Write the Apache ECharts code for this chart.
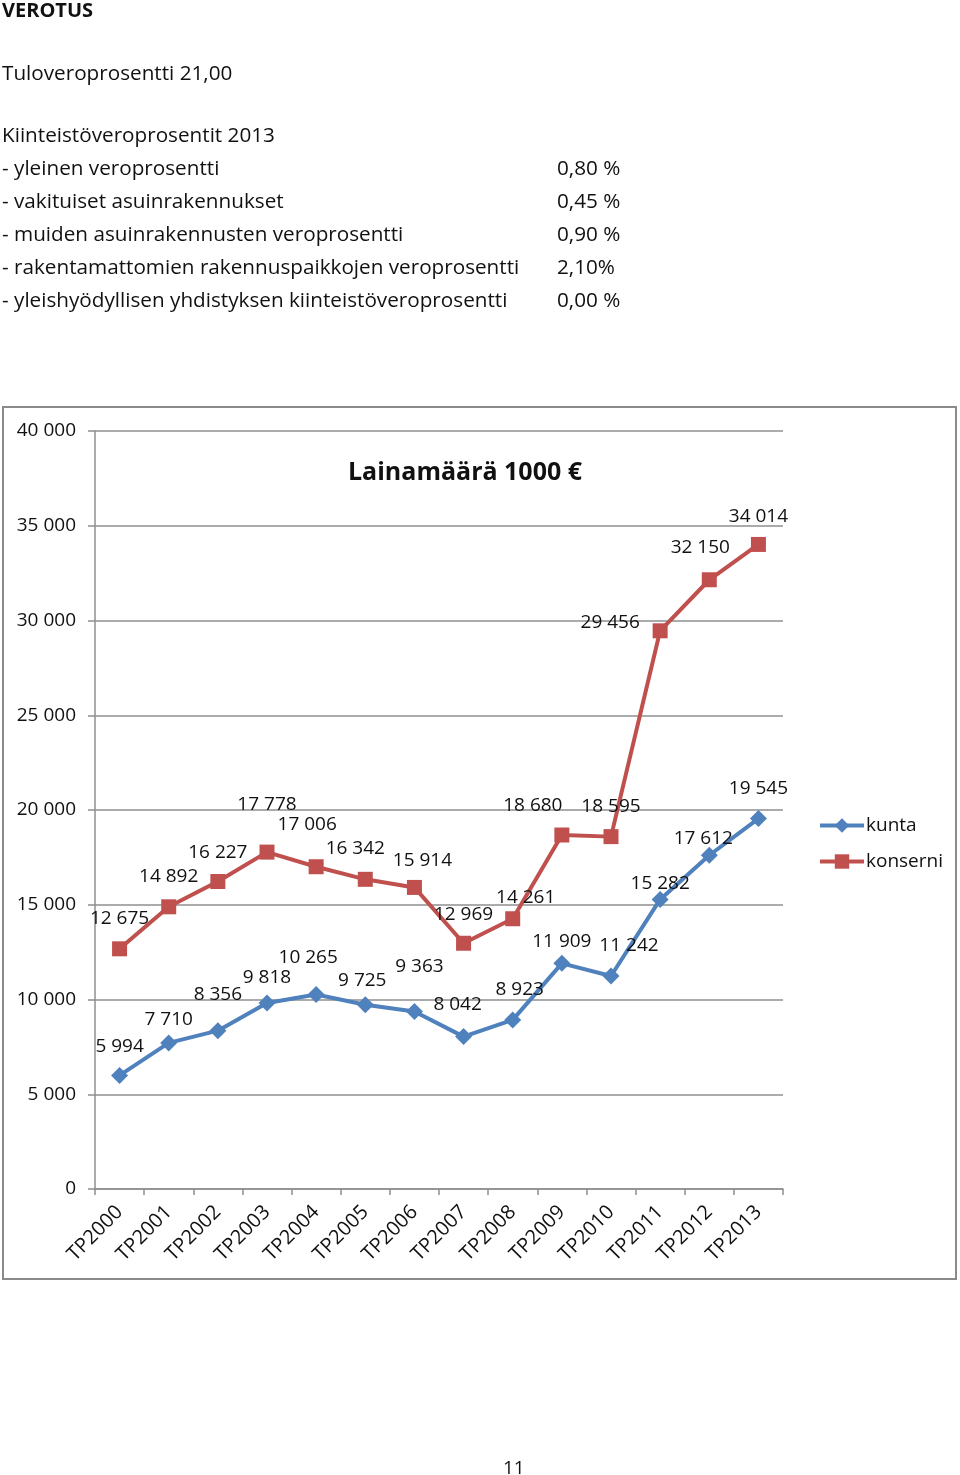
<!DOCTYPE html>
<html>
<head>
<meta charset="utf-8">
<script src="https://cdn.jsdelivr.net/npm/echarts@6/dist/echarts.min.js"></script>
<style>
  html, body { margin: 0; padding: 0; background: #fff; }
  body { width: 960px; height: 1475px; position: relative; overflow: hidden; font-family: "Open Sans", sans-serif; color: #111; }
  .t { position: absolute; font-size: 20.7px; line-height: 24px; white-space: nowrap; z-index: 2; }
  #chart { position: absolute; left: 0; top: 0; width: 960px; height: 1475px; z-index: 1; }
</style>
</head>
<body>
<div class="t" style="left:2px; top:-2px; font-weight:bold; font-size:20px;">VEROTUS</div>
<div class="t" style="left:2px; top:60px;">Tuloveroprosentti 21,00</div>
<div class="t" style="left:2px; top:122px;">Kiinteistöveroprosentit 2013</div>
<div id="rows"></div>
<div class="t" style="left:503px; top:1455px; font-size:19px;">11</div>
<div id="chart"></div>
<script>
// ---- data ----
const taxRowLabels = [
  "- yleinen veroprosentti",
  "- vakituiset asuinrakennukset",
  "- muiden asuinrakennusten veroprosentti",
  "- rakentamattomien rakennuspaikkojen veroprosentti",
  "- yleishyödyllisen yhdistyksen kiinteistöveroprosentti"
];
const taxRowValues = ["0,80 %", "0,45 %", "0,90 %", "2,10%", "0,00 %"];

const categories = ["TP2000","TP2001","TP2002","TP2003","TP2004","TP2005","TP2006","TP2007","TP2008","TP2009","TP2010","TP2011","TP2012","TP2013"];
const kunta = [5994, 7710, 8356, 9818, 10265, 9725, 9363, 8042, 8923, 11909, 11242, 15282, 17612, 19545];
const konserni = [12675, 14892, 16227, 17778, 17006, 16342, 15914, 12969, 14261, 18680, 18595, 29456, 32150, 34014];
const yTicks = [0, 5000, 10000, 15000, 20000, 25000, 30000, 35000, 40000];

// label placement (styling only)
const kuntaLabelShift = [[0,-29],[0,-23],[0,-36],[0,-25],[-8,-37],[-3,-24],[5,-45],[-6,-32],[7,-30],[0,-22],[18,-30],[0,-16],[-6,-17],[0,-30]];
const konserniLabelShift = [[0,-30],[0,-30],[0,-29],[0,-48],[-9,-42],[-10,-31],[8,-27],[0,-29],[13,-21],[-29,-29],[0,-30],[-50,-8],[-9,-32],[0,-28]];

// ---- top text rows ----
const rowsEl = document.getElementById('rows');
taxRowLabels.forEach((lab, i) => {
  const cy = 167 + i * 33;
  const a = document.createElement('div');
  a.className = 't'; a.style.left = '2px'; a.style.top = (cy - 12) + 'px'; a.textContent = lab;
  const b = document.createElement('div');
  b.className = 't'; b.style.left = '557px'; b.style.top = (cy - 12) + 'px'; b.textContent = taxRowValues[i];
  rowsEl.appendChild(a); rowsEl.appendChild(b);
});

function fmt(v) {
  return String(v).replace(/\B(?=(\d{3})+(?!\d))/g, ' ');
}
function withLabels(values, shifts) {
  return values.map((v, i) => ({
    value: v,
    label: { offset: shifts[i] }
  }));
}

const chart = echarts.init(document.getElementById('chart'), null, { renderer: 'canvas' });
const FONT = '"Open Sans", sans-serif';
const gridColor = '#8f8f8f';

chart.setOption({
  animation: false,
  backgroundColor: 'transparent',
  textStyle: { fontFamily: FONT },
  graphic: [{
    type: 'rect',
    shape: { x: 3, y: 407, width: 953, height: 872 },
    style: { fill: '#fff', stroke: '#8a8a8a', lineWidth: 2 },
    z: -10
  }],
  title: {
    text: 'Lainamäärä 1000 €',
    left: 343, top: 455,
    textStyle: { fontFamily: FONT, fontSize: 25, fontWeight: 'bold', color: '#111' }
  },
  legend: {
    orient: 'vertical',
    left: 813, top: 811,
    itemWidth: 44, itemHeight: 18, itemGap: 17,
    lineStyle: { width: 4 },
    textStyle: { fontFamily: FONT, fontSize: 19, color: '#111', padding: [0,0,0,-3] },
    data: ['kunta', 'konserni']
  },
  grid: { left: 95, right: 177, top: 431, bottom: 286, containLabel: false },
  xAxis: {
    type: 'category',
    data: categories,
    boundaryGap: true,
    axisLine: { lineStyle: { color: gridColor, width: 1.5 } },
    axisTick: { show: true, interval: 0, length: 6, lineStyle: { color: gridColor, width: 1.5 } },
    axisLabel: { interval: 0, rotate: 45, margin: 20, fontFamily: FONT, fontSize: 20, color: '#111' }
  },
  yAxis: {
    type: 'value',
    min: yTicks[0], max: yTicks[yTicks.length - 1], interval: yTicks[1] - yTicks[0],
    axisLine: { show: true, lineStyle: { color: gridColor, width: 1.5 } },
    axisTick: { show: true, length: 7, lineStyle: { color: gridColor, width: 1.5 } },
    splitLine: { show: true, lineStyle: { color: gridColor, width: 1.5 } },
    axisLabel: { margin: 19, fontFamily: FONT, fontSize: 19, color: '#111', formatter: v => fmt(v) }
  },
  series: [
    {
      name: 'kunta', type: 'line',
      data: withLabels(kunta, kuntaLabelShift),
      symbol: 'diamond', symbolSize: 17,
      lineStyle: { color: '#4F81BD', width: 4 },
      itemStyle: { color: '#4F81BD' },
      label: { show: true, position: 'inside', fontFamily: FONT, fontSize: 19, color: '#111', formatter: p => fmt(p.value) },
      z: 3
    },
    {
      name: 'konserni', type: 'line',
      data: withLabels(konserni, konserniLabelShift),
      symbol: 'rect', symbolSize: 15,
      lineStyle: { color: '#C0504D', width: 4 },
      itemStyle: { color: '#C0504D' },
      label: { show: true, position: 'inside', fontFamily: FONT, fontSize: 19, color: '#111', formatter: p => fmt(p.value) },
      z: 3
    }
  ]
});
</script>
</body>
</html>
